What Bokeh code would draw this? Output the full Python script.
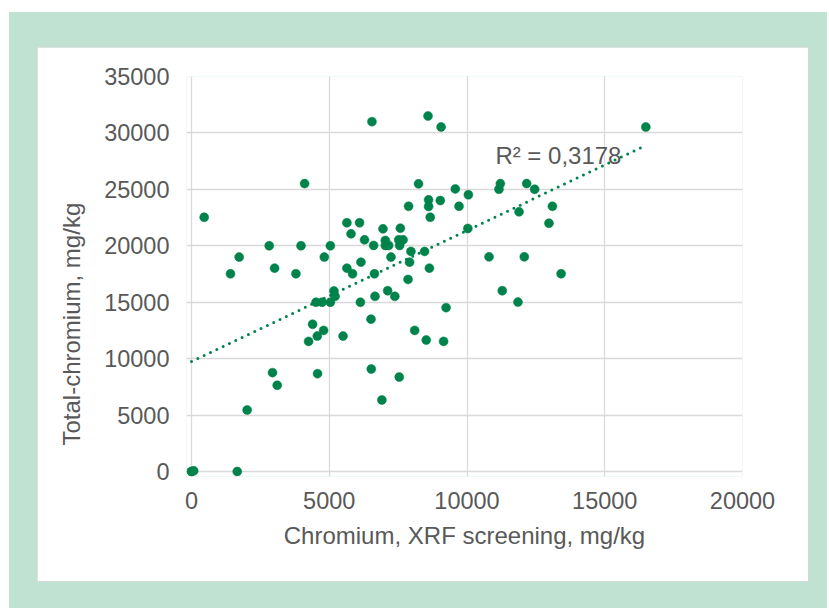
import numpy as np
from bokeh.plotting import figure
from bokeh.models import Range1d, Label, SingleIntervalTicker, Column, Title
from bokeh.embed import file_html
from bokeh.resources import INLINE

# --- data ---
xrf_cr = [0, 0, 80, 1660, 2020, 2940, 3110, 4575, 4250, 4565, 4795,
          4395, 5500, 6525, 6910, 7540, 6515, 8100, 8520, 9150, 9240,
          6130, 6660, 7120, 7380, 7860, 4520, 4740, 5040, 5210, 5170,
          6550, 8585, 9060, 4105, 460, 2820, 3975, 1730, 1415, 3015,
          3790, 5040, 4820, 5640, 6100, 5790, 6950, 7580, 6280, 6610,
          7035, 7035, 7155, 7520, 7680, 7555, 7965, 8460, 7240, 6150,
          7915, 8635, 5640, 5845, 6640, 8240, 9575, 8605, 9030, 8605,
          7880, 9710, 8665, 10050, 10030, 11210, 11160, 12165, 12455, 11890,
          13100, 12975, 10800, 12080, 13415, 11280, 11850, 16490]
total_cr = [0, 0, 60, 0, 5450, 8760, 7640, 8670, 11530, 12000, 12500,
            13050, 12000, 9080, 6340, 8370, 13500, 12500, 11650, 11530, 14520,
            15000, 15520, 16020, 15520, 17020, 15000, 15000, 15000, 15520, 16000,
            31000, 31500, 30530, 25510, 22530, 20000, 20000, 19000, 17520, 18020,
            17520, 20000, 19000, 22040, 22040, 21060, 21500, 21560, 20530, 20030,
            20470, 20030, 20030, 20530, 20530, 20030, 19500, 19500, 19000, 18550,
            18550, 18020, 18020, 17520, 17520, 25490, 25040, 24070, 24010, 23480,
            23500, 23500, 22530, 24520, 21530, 25510, 25010, 25510, 25010, 23010,
            23500, 22000, 19020, 19020, 17520, 16020, 15010, 30530]
r2_text = "R\u00b2 = 0,3178"
x_title = "Chromium, XRF screening, mg/kg"
y_title = "Total-chromium, mg/kg"

GREEN = "#00834A"
GREY_TXT = "#595959"
GRID = "#D9D9D9"
FONT = "Liberation Sans"

p = figure(width=771, height=534, output_backend="svg", toolbar_location=None,
           x_range=Range1d(-182, 20000), y_range=Range1d(-442, 35000),
           min_border_left=149, min_border_right=66, min_border_top=29,
           min_border_bottom=105)
p.background_fill_color = "white"
p.border_fill_color = "white"
p.outline_line_color = None

p.xaxis.ticker = SingleIntervalTicker(interval=5000)
p.yaxis.ticker = SingleIntervalTicker(interval=5000)
p.xgrid.ticker = SingleIntervalTicker(interval=5000)
p.ygrid.ticker = SingleIntervalTicker(interval=5000)
for g in (p.xgrid, p.ygrid):
    g.grid_line_color = GRID
    g.grid_line_width = 1.3

for ax in (p.xaxis, p.yaxis):
    ax.axis_line_color = None
    ax.major_tick_line_color = None
    ax.minor_tick_line_color = None
    ax.major_tick_out = 0
    ax.major_tick_in = 0
    ax.minor_tick_out = 0
    ax.major_label_text_font = FONT
    ax.major_label_text_font_size = "23.5px"
    ax.major_label_text_color = GREY_TXT
    ax.axis_label_text_font = FONT
    ax.axis_label_text_font_size = "24px"
    ax.axis_label_text_font_style = "normal"
    ax.axis_label_text_color = GREY_TXT

p.xaxis.axis_label = x_title
p.xaxis.major_label_standoff = 15
p.yaxis.major_label_standoff = 17
p.xaxis.axis_label_standoff = 10

# y-axis title, placed lower than centre as in the reference
p.add_layout(Title(text=y_title, align="left", offset=31, standoff=34,
                   text_font=FONT, text_font_size="24px",
                   text_font_style="normal", text_color=GREY_TXT), "left")

x = np.array(xrf_cr, dtype=float)
y = np.array(total_cr, dtype=float)
slope, intercept = np.polyfit(x, y, 1)
xs = np.array([x.min(), x.max()])
p.line(xs, slope * xs + intercept, line_color=GREEN, line_width=3,
       line_dash="0 7", line_cap="round")

p.scatter(x, y, size=9, fill_color=GREEN, line_color=GREEN, line_width=0.5)

p.add_layout(Label(x=11030, y=28000, text=r2_text, text_font=FONT,
                   text_font_size="24px", text_color=GREY_TXT,
                   text_baseline="alphabetic"))

p.margin = (35, 19, 27, 28)
p.styles = {"outline": "1px solid #D6D6D6"}

page = Column(children=[p], margin=(12, 0, 0, 9),
              styles={"background-color": "#C0E2D3"})

open("out.html", "w").write(file_html(page, INLINE))
